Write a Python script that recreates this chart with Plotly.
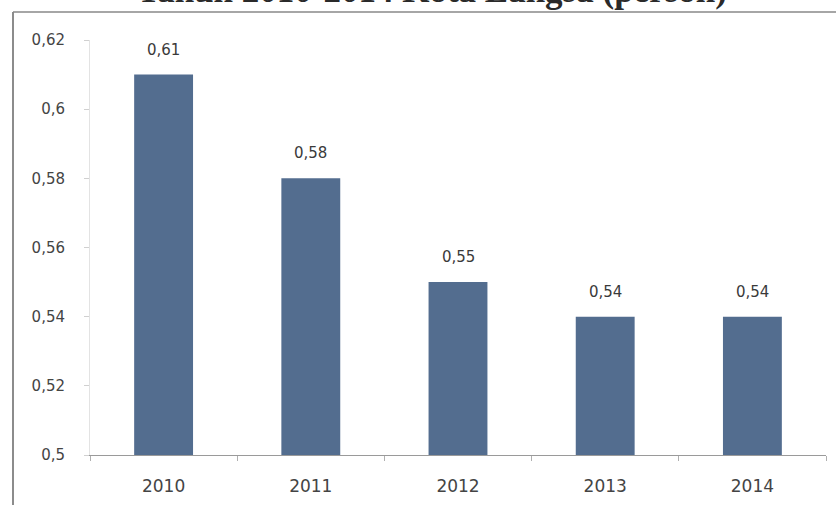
import plotly.graph_objects as go

# Values per year
years = ["2010", "2011", "2012", "2013", "2014"]
values = [0.61, 0.58, 0.55, 0.54, 0.54]
value_labels = ["0,61", "0,58", "0,55", "0,54", "0,54"]

# Y axis ticks
y_ticks = [0.5, 0.52, 0.54, 0.56, 0.58, 0.6, 0.62]
y_tick_labels = ["0,5", "0,52", "0,54", "0,56", "0,58", "0,6", "0,62"]

title_text = "Tahun 2010-2014 Kota Langsa (person)"

W, H = 836, 505
ML, MR, MT, MB = 90, 10, 40, 50
plot_w = W - ML - MR
plot_h = H - MT - MB


def px_to_paper_x(px):
    return (px - ML) / plot_w


def px_to_paper_y(py):
    return (H - MB - py) / plot_h


label_font = dict(family="DejaVu Sans", size=15, color="#3a3a3a")
tick_font = dict(family="DejaVu Sans", size=15, color="#444444")

fig = go.Figure(
    go.Bar(
        x=years,
        y=values,
        marker=dict(color="#536d8f", line=dict(width=0)),
        hoverinfo="skip",
    )
)

# value labels above each bar (positioned by category index)
annotations = [
    dict(x=i, y=v, xref="x", yref="y", text=lbl, showarrow=False,
         yanchor="bottom", yshift=14, font=label_font)
    for i, (v, lbl) in enumerate(zip(values, value_labels))
]

# large bold heading running off the top edge
annotations.append(
    dict(x=px_to_paper_x(432), y=px_to_paper_y(-10), xref="paper", yref="paper",
         text="<b>" + title_text + "</b>", showarrow=False,
         xanchor="center", yanchor="middle",
         font=dict(family="Liberation Serif", size=35, color="#2a2a2a"))
)

fig.update_layout(
    width=W,
    height=H,
    margin=dict(l=ML, r=MR, t=MT, b=MB),
    paper_bgcolor="white",
    plot_bgcolor="white",
    bargap=0.6,
    showlegend=False,
    font=dict(family="DejaVu Sans", size=15, color="#444444"),
    annotations=annotations,
    xaxis=dict(
        type="category",
        range=[-0.5, len(years) - 0.5],
        showline=True,
        linecolor="#9a9a9a",
        linewidth=1,
        ticks="outside",
        tickson="boundaries",
        ticklen=5,
        tickcolor="#b0b0b0",
        showgrid=False,
        tickangle=0,
        ticklabelstandoff=16,
        tickfont=dict(family="DejaVu Sans", size=17, color="#444444"),
    ),
    yaxis=dict(
        range=[0.5, 0.62],
        tickvals=y_ticks,
        ticktext=y_tick_labels,
        showline=True,
        linecolor="#e3e3e3",
        linewidth=1,
        ticks="outside",
        ticklen=5,
        tickcolor="#d0d0d0",
        showgrid=False,
        zeroline=False,
        ticklabelstandoff=16,
        tickfont=tick_font,
    ),
    shapes=[
        # chart frame: left and top borders
        dict(type="line", xref="paper", yref="paper",
             x0=px_to_paper_x(13), x1=px_to_paper_x(13),
             y0=px_to_paper_y(12), y1=px_to_paper_y(H + 5),
             line=dict(color="#666666", width=1.5)),
        dict(type="line", xref="paper", yref="paper",
             x0=px_to_paper_x(13), x1=px_to_paper_x(W + 5),
             y0=px_to_paper_y(12), y1=px_to_paper_y(12),
             line=dict(color="#888888", width=1.5)),
    ],
)

fig.write_html("out.html")
